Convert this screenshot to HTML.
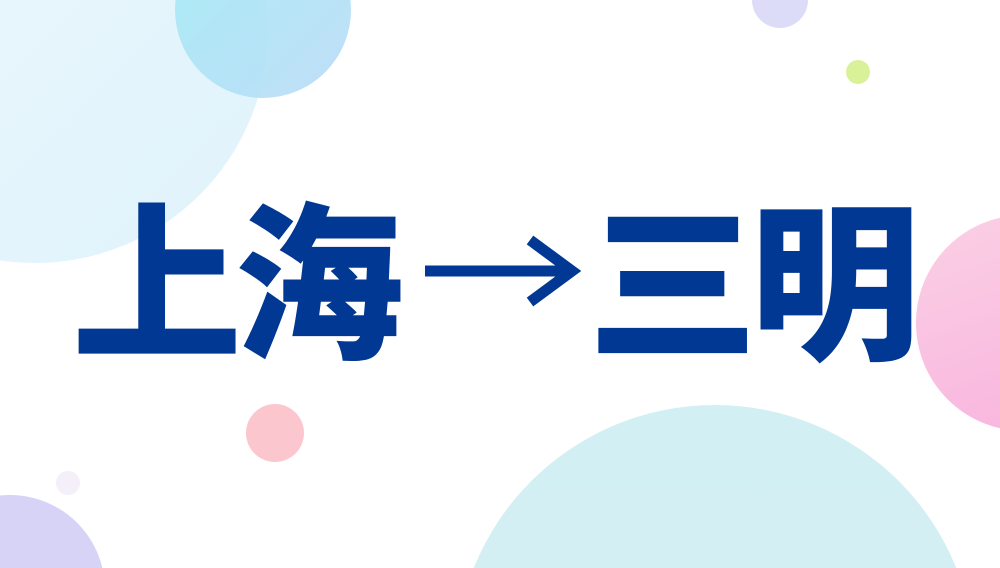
<!DOCTYPE html>
<html><head><meta charset="utf-8"><style>
html,body{margin:0;padding:0;width:1000px;height:568px;overflow:hidden;}
#w{position:relative;width:1000px;height:568px;overflow:hidden;background:#fff;}
.c{position:absolute;border-radius:50%;}
.t{position:absolute;top:183px;font-family:"Liberation Sans","Noto Sans CJK SC",sans-serif;font-weight:900;font-size:170px;line-height:210px;color:#003893;letter-spacing:-8px;white-space:nowrap;}
</style></head><body><div id="w">
<div class="c" style="left:-198px;top:-203px;width:466px;height:466px;background:linear-gradient(135deg,#eef9fd,#dff2fb);"></div>
<div class="c" style="left:175px;top:-78px;width:176px;height:176px;background:linear-gradient(135deg,#a3ecf5,#b9daf7);opacity:.9;"></div>
<div class="c" style="left:752px;top:-28px;width:56px;height:56px;background:#dcdcf8;"></div>
<div class="c" style="left:846px;top:60px;width:24px;height:24px;background:#d9f29a;"></div>
<div class="c" style="left:916px;top:215px;width:216px;height:216px;background:linear-gradient(160deg,#fbd0e4,#f8b2de);"></div>
<div class="c" style="left:246px;top:404px;width:58px;height:58px;background:#fcc6cf;"></div>
<div class="c" style="left:56px;top:471px;width:24px;height:24px;background:#f4eff9;"></div>
<div class="c" style="left:-85px;top:495px;width:190px;height:190px;background:#d6d3f7;"></div>
<div class="c" style="left:455px;top:405px;width:520px;height:520px;background:linear-gradient(180deg,#d2f0f3,#d6ecf6);"></div>
<div class="t" style="left:72px;">上海</div>
<svg style="position:absolute;left:0;top:0" width="1000" height="568">
<line x1="425" y1="271" x2="566" y2="271" stroke="#003893" stroke-width="11"/>
<path d="M530 240 L572 271 L530 302" fill="none" stroke="#003893" stroke-width="11" stroke-linejoin="miter"/>
</svg>
<div class="t" style="left:588px;">三明</div>
</div></body></html>
